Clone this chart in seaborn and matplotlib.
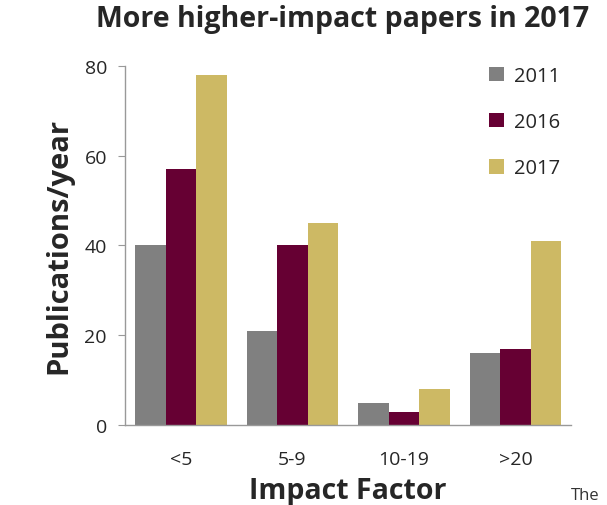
import pandas as pd
import matplotlib
matplotlib.use("Agg")
import matplotlib.pyplot as plt
import seaborn as sns
from matplotlib.patches import Patch

# data
categories = ['<5', '5-9', '10-19', '>20']
years = ['2011', '2016', '2017']
pubs_2011 = [40, 21, 5, 16]
pubs_2016 = [57, 40, 3, 17]
pubs_2017 = [78, 45, 8, 41]
colors = ['#808080', '#660033', '#CDB964']

df = pd.DataFrame({
    'Impact Factor': categories * 3,
    'Year': [y for y in years for _ in categories],
    'Publications': pubs_2011 + pubs_2016 + pubs_2017,
})

sns.set_style('white')
plt.rcParams['font.family'] = ['Open Sans', 'DejaVu Sans']

fig = plt.figure(figsize=(6.07, 5.06), dpi=100)
ax = fig.add_axes([0.206, 0.158, 0.735, 0.71])

sns.barplot(data=df, x='Impact Factor', y='Publications', hue='Year',
            palette=colors, width=0.82, saturation=1, linewidth=0,
            ax=ax, legend=False)

ax.set_ylim(0, 80)
ax.set_xlim(-0.5, 3.5)
ax.set_yticks([0, 20, 40, 60, 80])
ax.tick_params(axis='y', length=5, color='#999999', labelsize=14, pad=8)
ax.set_xticks(range(len(categories)))
ax.set_xticklabels(categories)
ax.set_xticks([i - 0.5 for i in range(len(categories) + 1)], minor=True)
ax.tick_params(axis='x', which='major', length=0, labelsize=14, pad=18)
ax.tick_params(axis='x', which='minor', length=6, color='#999999', direction='out')
ax.tick_params(axis='y', direction='out', left=True)
for s in ['top', 'right']:
    ax.spines[s].set_visible(False)
for s in ['left', 'bottom']:
    ax.spines[s].set_color('#999999')
    ax.spines[s].set_linewidth(1.0)

ax.set_xlabel('Impact Factor', fontsize=20.5, fontweight='bold', labelpad=6)
ax.set_ylabel('Publications/year', fontsize=21, fontweight='bold', labelpad=8)
fig.suptitle('More higher-impact papers in 2017', x=0.565, y=0.99,
             fontsize=20.5, fontweight='bold')

handles = [Patch(facecolor=c, edgecolor='none') for c in colors]
ax.legend(handles, years, loc='upper right', bbox_to_anchor=(1.015, 1.05),
          frameon=False, fontsize=14.5, handlelength=0.75, handleheight=0.75,
          handletextpad=0.45, labelspacing=1.3)

fig.text(0.94, 0.003, 'The', fontsize=12, color='#333333', va='bottom')

fig.savefig('out.png', dpi=100)
